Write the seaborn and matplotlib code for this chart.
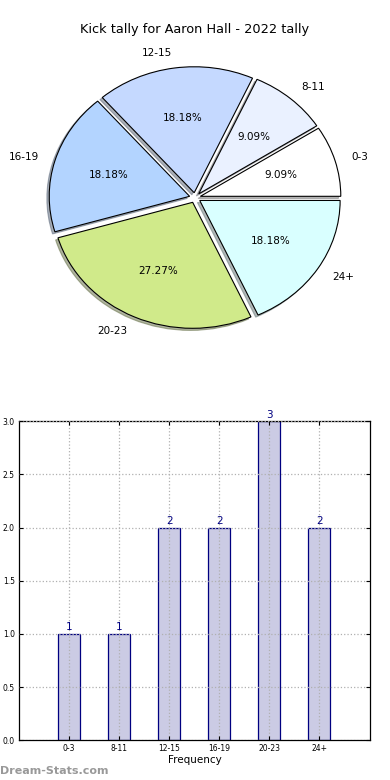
import matplotlib
matplotlib.use("Agg")
import matplotlib.pyplot as plt
import seaborn as sns
import pandas as pd

# data
categories = ['0-3', '8-11', '12-15', '16-19', '20-23', '24+']
counts = [1, 1, 2, 2, 3, 2]
pie_colors = ['#ffffff', '#eaf1ff', '#c5d9ff', '#b3d4ff', '#d0ea8a', '#d9ffff']
title = 'Kick tally for Aaron Hall - 2022 tally'

sns.set_style("white")
plt.rcParams['font.family'] = ['DejaVu Sans']
plt.rcParams['text.color'] = 'black'
plt.rcParams['xtick.color'] = 'black'
plt.rcParams['ytick.color'] = 'black'
plt.rcParams['axes.labelcolor'] = 'black'

fig = plt.figure(figsize=(3.9, 7.8), dpi=100)

# pie chart (slightly stretched horizontally like the original)
ax1 = fig.add_axes([0.05, 0.522, 0.9, 0.449])
ax1.pie(counts, labels=categories, colors=pie_colors, autopct='%.2f%%',
        explode=[0.04] * len(counts),
        shadow={'ox': -0.012, 'oy': -0.012, 'shade': 0.55},
        startangle=0, labeldistance=1.12, pctdistance=0.6,
        wedgeprops={'edgecolor': 'black', 'linewidth': 0.8},
        textprops={'fontsize': 7.5, 'color': 'black'})
ax1.set_aspect('auto')
ax1.set_xlim(-1.25, 1.25)
ax1.set_ylim(-1.39, 1.39)
ax1.axis('off')
fig.text(0.5, 0.962, title, ha='center', va='center', fontsize=9.3)

# bar chart
df = pd.DataFrame({'range': categories, 'count': counts})
ax2 = fig.add_axes([0.049, 0.051, 0.9, 0.409])
sns.barplot(data=df, x='range', y='count', ax=ax2, color='#cbcbe4',
            edgecolor='#000080', linewidth=0.9, width=0.45, saturation=1)
ax2.set_xlim(-1, 6.02)
ax2.set_ylim(0, 3.0)
ax2.set_yticks([0, 0.5, 1.0, 1.5, 2.0, 2.5, 3.0])
ax2.set_yticklabels(['0.0', '0.5', '1.0', '1.5', '2.0', '2.5', '3.0'])
ax2.grid(True, linestyle=':', color='#b0b0b0', linewidth=0.9)
ax2.set_axisbelow(False)
ax2.tick_params(axis='both', labelsize=5.5, direction='in', length=3,
                top=True, right=True, bottom=True, left=True, pad=3)
for s in ax2.spines.values():
    s.set_color('black')
    s.set_linewidth(0.9)
ax2.set_xlabel('Frequency', fontsize=7.5, labelpad=1)
ax2.set_ylabel('')
for c in ax2.containers:
    ax2.bar_label(c, labels=[str(v) for v in counts], color='#000080',
                  fontsize=7.5, padding=1)

fig.text(0.0, 0.012, 'Dream-Stats.com', color='#999999', fontsize=8,
         fontweight='bold', ha='left', va='center')

fig.savefig('out.png', dpi=100)
